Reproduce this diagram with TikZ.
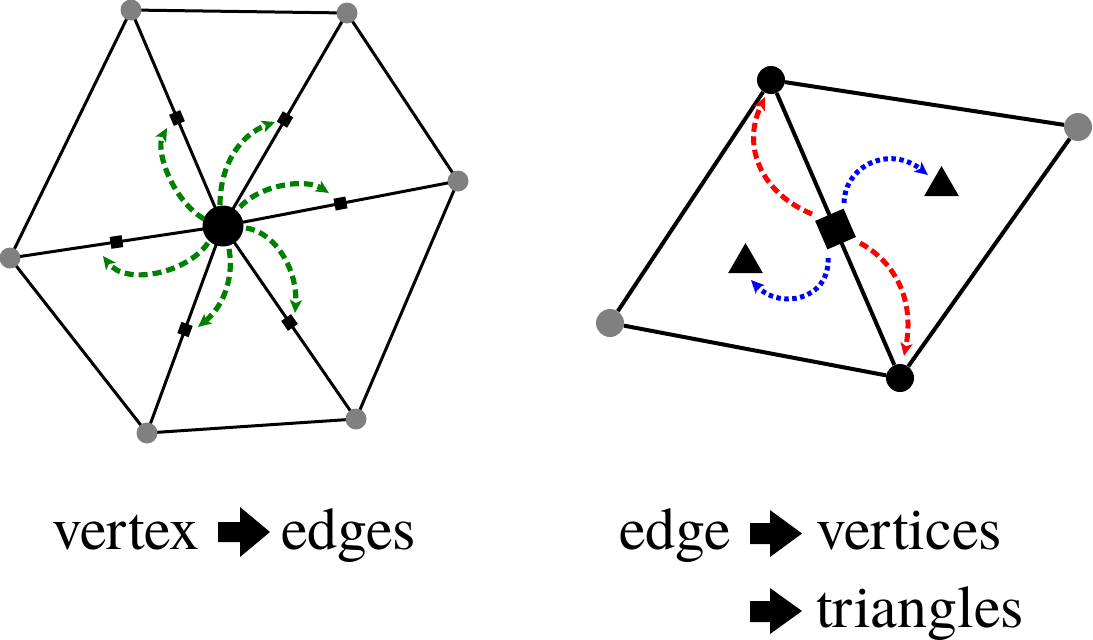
\documentclass[tikz,border=0pt]{standalone}
\usepackage{fontspec}
\IfFontExistsTF{TeX Gyre Termes}{\setmainfont{TeX Gyre Termes}}{\setmainfont{Liberation Serif}}
\usetikzlibrary{arrows.meta,shapes.geometric,calc}
\definecolor{vgray}{RGB}{128,128,128}
\definecolor{dgreen}{RGB}{0,128,0}
\begin{document}
\begin{tikzpicture}[x=1pt,y=-1pt,
  edgeA/.style={line width=3pt,black},
  edgeB/.style={line width=4pt,black},
  gv/.style={circle,fill=vgray,inner sep=0pt,minimum size=21pt},
  gvr/.style={circle,fill=vgray,inner sep=0pt,minimum size=28pt},
  cv/.style={circle,fill=black,inner sep=0pt,minimum size=41pt},
  bv/.style={circle,fill=black,inner sep=0pt,minimum size=28pt},
  esq/.style={rectangle,fill=black,inner sep=0pt,minimum size=12pt},
  bsq/.style={rectangle,fill=black,inner sep=0pt,minimum size=31pt},
  tri/.style={regular polygon,regular polygon sides=3,fill=black,inner sep=0pt,minimum size=40pt},
  tip/.style={-{Stealth[length=13pt,width=12pt,inset=3pt]}},
  garrow/.style={tip,draw=dgreen,line width=5.2pt,dash pattern=on 9pt off 5pt},
  rarrow/.style={tip,draw=red,line width=5pt,dash pattern=on 9pt off 4.5pt},
  barrow/.style={tip,draw=blue,line width=5pt,dash pattern=on 4.5pt off 3.5pt},
  lbl/.style={anchor=base west,inner sep=0pt,font=\fontsize{60}{72}\selectfont},
  bigarrow/.style={fill=black}
]
\useasboundingbox (0,0) rectangle (1093,640);

% ---------- left panel ----------
\coordinate (c) at (223,226);
\coordinate (v1) at (131,10);
\coordinate (v2) at (347,13);
\coordinate (v3) at (458,181);
\coordinate (v4) at (356,419);
\coordinate (v5) at (147,433);
\coordinate (v6) at (10,258);
\draw[edgeA,line join=round] (v1) -- (v2) -- (v3) -- (v4) -- (v5) -- (v6) -- cycle;
\foreach \i in {1,...,6} {
  \draw[edgeA] (c) -- node[esq,sloped] (s\i) {} (v\i);
}
\foreach \i in {1,...,6} {
  \node[gv] (g\i) at (v\i) {};
}
\node[cv] (cn) at (c) {};

\draw[garrow] (204,219) .. controls (172,200) and (155,150) .. (167,128);
\draw[garrow] (220,205) .. controls (220,165) and (240,135) .. (275,122);
\draw[garrow] (240,207) .. controls (260,185) and (305,178) .. (329,193);
\draw[garrow] (246,228) .. controls (275,232) and (298,270) .. (295,313);
\draw[garrow] (229,249) .. controls (234,275) and (225,305) .. (198,327);
\draw[garrow] (208,243) .. controls (185,275) and (125,285) .. (103,256);

% ---------- right panel ----------
\node[bv] (t) at (771,80) {};
\node[gvr] (r) at (1078,127) {};
\node[bv] (b) at (900,378) {};
\node[gvr] (l) at (610,323) {};
\draw[edgeB] (t) -- (r);
\draw[edgeB] (r) -- (b);
\draw[edgeB] (b) -- (l);
\draw[edgeB] (l) -- (t);
\draw[edgeB] (t) -- node[bsq,sloped] (m) {} (b);
\node[tri] (tr1) at (941.5,186) {};
\node[tri] (tr2) at (745.5,263) {};

\draw[rarrow] (812,214) .. controls (765,195) and (740,150) .. (765,97);
\draw[rarrow] (860,243) .. controls (895,262) and (915,300) .. (904,356);
\draw[barrow] (844,203) .. controls (845,165) and (890,145) .. (928,175);
\draw[barrow] (828,258) .. controls (830,300) and (780,310) .. (751,280);

% ---------- labels ----------
\node[lbl] (tv) at (52,549) {vertex};
\fill[bigarrow] (218,522) -- (240,522) -- (240,507) -- (270,532) -- (240,557) -- (240,542) -- (218,542) -- cycle;
\node[lbl] (te) at (281,549) {edges};

\node[lbl] (te2) at (619,549) {edge};
\fill[bigarrow] (750,523) -- (770,523) -- (770,510) -- (802,533.5) -- (770,557) -- (770,544) -- (750,544) -- cycle;
\node[lbl] (tvs) at (816,549) {vertices};

\fill[bigarrow] (750,601) -- (770,601) -- (770,588) -- (802,611) -- (770,634) -- (770,622) -- (750,622) -- cycle;
\node[lbl] (ttr) at (816,627) {triangles};
\end{tikzpicture}
\end{document}
